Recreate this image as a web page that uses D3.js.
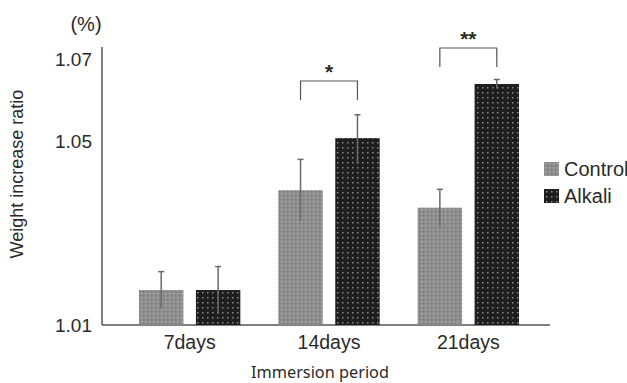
<!DOCTYPE html>
<html>
<head>
<meta charset="utf-8">
<script src="https://cdn.jsdelivr.net/npm/d3@7"></script>
<style>
  body { margin: 0; background: #fff; }
  text { font-family: Arial, "Liberation Sans", sans-serif; fill: #2a2a2a; }
</style>
</head>
<body>
<div id="chart"></div>
<script>
// data
const periods = ["7days", "14days", "21days"];
const groups = ["Control", "Alkali"];
const controlMean = [1.0176, 1.0393, 1.0355];
const controlErr  = [0.0040, 0.0067, 0.0040];
const alkaliMean  = [1.0176, 1.0507, 1.0639];
const alkaliErr   = [0.0051, 0.0057, 0.0011];
const yTicks = [1.01, 1.05, 1.07];
const signif = [null, "*", "**"];

const width = 627, height = 383;

const svg = d3.select("#chart")
  .append("svg")
    .attr("width", width)
    .attr("height", height);

// textured fills
const defs = svg.append("defs");
const pc = defs.append("pattern").attr("id", "pControl")
  .attr("width", 4).attr("height", 4).attr("patternUnits", "userSpaceOnUse");
pc.append("rect").attr("width", 4).attr("height", 4).attr("fill", "#8c8c8c");
pc.append("rect").attr("x", 1).attr("y", 1).attr("width", 1.5).attr("height", 1.5).attr("fill", "#a8a8a8");
pc.append("rect").attr("x", 3).attr("y", 3).attr("width", 1).attr("height", 1).attr("fill", "#777");

const pa = defs.append("pattern").attr("id", "pAlkali")
  .attr("width", 5).attr("height", 5).attr("patternUnits", "userSpaceOnUse");
pa.append("rect").attr("width", 5).attr("height", 5).attr("fill", "#1e1e1e");
pa.append("rect").attr("x", 2).attr("y", 2).attr("width", 1.5).attr("height", 1.5).attr("fill", "#8a8a8a");

const fills = {Control: "url(#pControl)", Alkali: "url(#pAlkali)"};

// scales
const x = d3.scaleBand()
  .domain(periods)
  .range([120, 538]);

const xInner = d3.scaleBand()
  .domain(groups)
  .range([19, x.bandwidth() - 19])
  .paddingInner(0.22)
  .paddingOuter(0);

const y = d3.scaleLinear()
  .domain([1.01, 1.05, 1.07])
  .range([325, 141, 59]);

// axes
svg.append("line")
  .attr("x1", 102).attr("x2", 102)
  .attr("y1", 47).attr("y2", 325)
  .attr("stroke", "#555").attr("stroke-width", 1.5);
svg.append("line")
  .attr("x1", 102).attr("x2", 550)
  .attr("y1", 325).attr("y2", 325)
  .attr("stroke", "#555").attr("stroke-width", 1.5);

const yAxis = svg.append("g")
  .attr("transform", "translate(102,0)")
  .call(d3.axisLeft(y).tickValues(yTicks).tickSize(0).tickPadding(10)
    .tickFormat(d3.format(".2f")));
yAxis.select(".domain").remove();
yAxis.selectAll("text")
  .style("font-family", "Arial, 'Liberation Sans', sans-serif")
  .style("font-size", "19px").attr("fill", "#2a2a2a");

const xAxis = svg.append("g")
  .attr("transform", "translate(0,325)")
  .call(d3.axisBottom(x).tickSize(0).tickPadding(10));
xAxis.select(".domain").remove();
xAxis.selectAll("text")
  .style("font-family", "Arial, 'Liberation Sans', sans-serif")
  .style("font-size", "19.5px").attr("fill", "#2a2a2a");

// bars
const rows = [];
periods.forEach((p, i) => {
  rows.push({period: p, group: "Control", mean: controlMean[i], err: controlErr[i]});
  rows.push({period: p, group: "Alkali", mean: alkaliMean[i], err: alkaliErr[i]});
});

svg.selectAll(".bar")
  .data(rows)
  .enter()
  .append("rect")
    .attr("class", "bar")
    .attr("x", d => x(d.period) + xInner(d.group))
    .attr("y", d => y(d.mean))
    .attr("width", xInner.bandwidth())
    .attr("height", d => y(1.01) - y(d.mean))
    .attr("fill", d => fills[d.group]);

// error bars
const eb = svg.selectAll(".err")
  .data(rows)
  .enter()
  .append("g")
    .attr("class", "err")
    .attr("transform", d => "translate(" + (x(d.period) + xInner(d.group) + xInner.bandwidth() / 2) + ",0)");
eb.append("line")
  .attr("y1", d => y(d.mean + d.err))
  .attr("y2", d => y(d.mean - d.err))
  .attr("stroke", "#6a6a6a").attr("stroke-width", 1.5);
eb.append("line")
  .attr("x1", -3).attr("x2", 3)
  .attr("y1", d => y(d.mean + d.err))
  .attr("y2", d => y(d.mean + d.err))
  .attr("stroke", "#6a6a6a").attr("stroke-width", 1.5);

// significance brackets
const sig = periods.map((p, i) => ({period: p, label: signif[i], i: i}))
  .filter(d => d.label);
const bracketTop = {"*": 81, "**": 48};
sig.forEach(d => {
  const x1 = x(d.period) + xInner("Control") + xInner.bandwidth() / 2;
  const x2 = x(d.period) + xInner("Alkali") + xInner.bandwidth() / 2;
  const top = bracketTop[d.label];
  svg.append("path")
    .attr("d", "M" + x1 + "," + (top + 19) + "V" + top + "H" + x2 + "V" + (top + 19))
    .attr("fill", "none").attr("stroke", "#555").attr("stroke-width", 1.2);
  svg.append("text")
    .attr("x", (x1 + x2) / 2)
    .attr("y", top - 2)
    .attr("text-anchor", "middle")
    .style("font-size", "21px")
    .style("font-weight", "bold")
    .text(d.label);
});

// legend
const legend = svg.selectAll(".leg")
  .data(groups)
  .enter()
  .append("g")
    .attr("class", "leg")
    .attr("transform", (d, i) => "translate(544," + (162 + i * 27) + ")");
legend.append("rect")
  .attr("width", 15).attr("height", 14)
  .attr("fill", d => fills[d]);
legend.append("text")
  .attr("x", 20).attr("y", 7)
  .attr("dy", "0.35em")
  .style("font-size", "20px")
  .text(d => d);

// titles
svg.append("text")
  .attr("x", 86).attr("y", 31)
  .attr("text-anchor", "middle")
  .style("font-size", "20px")
  .text("(%)");

svg.append("text")
  .attr("transform", "translate(23,174) rotate(-90)")
  .attr("text-anchor", "middle")
  .style("font-size", "18px")
  .text("Weight increase ratio");

svg.append("text")
  .attr("x", 320).attr("y", 378)
  .attr("text-anchor", "middle")
  .style("font-family", "'Noto Sans', 'Open Sans', sans-serif")
  .style("font-size", "16.3px")
  .text("Immersion period");
</script>
</body>
</html>
